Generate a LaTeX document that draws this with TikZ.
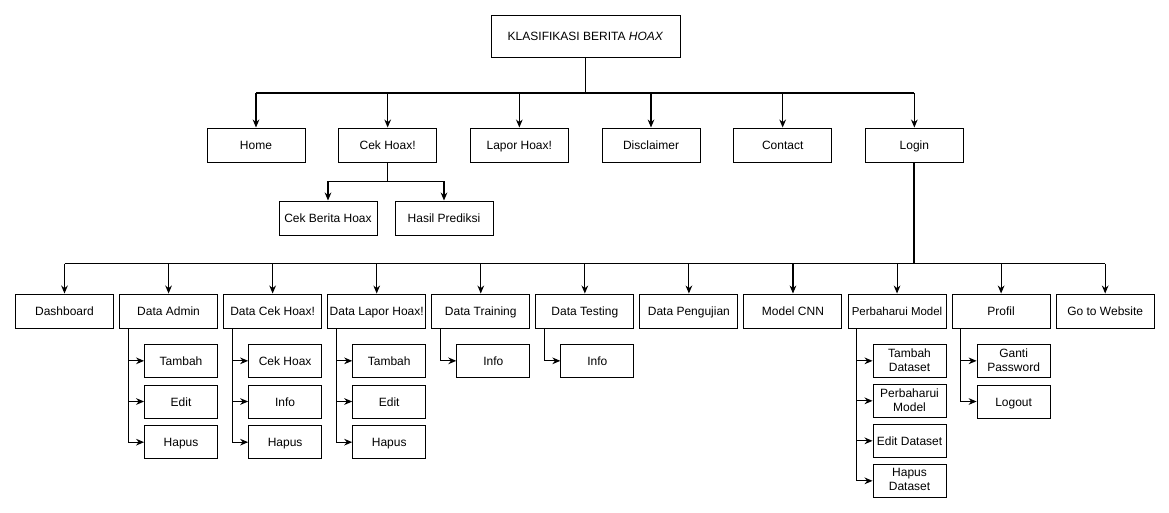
\documentclass[tikz,border=0pt]{standalone}
\usepackage{fontspec}
\setmainfont{Liberation Sans}
\usetikzlibrary{arrows.meta,positioning}
\newcommand{\tegak}{\rule[-1.5pt]{0pt}{10.1pt}}
\tikzset{
  menubox/.style={rectangle, draw=black, line width=0.75pt, minimum width=73.5pt, minimum height=25.5pt,
    inner xsep=0.5pt, inner ysep=0pt, align=center, font=\fontsize{9}{10.5}\selectfont,
    execute at begin node=\tegak, execute at end node=\tegak},
  subbox/.style={menubox, minimum width=54.75pt, minimum height=24.75pt},
  trunk/.style={line width=1.3pt}
}

\begin{document}
\begin{tikzpicture}[x=0.75pt, y=-0.75pt, line width=0.8pt, >={Stealth[length=6pt,width=5pt]}]
      \useasboundingbox (0,0) rectangle (1169,512);
      % judul
      \node[menubox, minimum width=141.75pt, minimum height=31.5pt] (judul) at (585.5,36) {KLASIFIKASI BERITA \textit{HOAX}};
      % menu utama
      \node[menubox] (home) at (256,145) {Home};
      \node[menubox, right=24.5pt of home] (cekhoax) {Cek Hoax!};
      \node[menubox, right=24.5pt of cekhoax] (laporhoax) {Lapor Hoax!};
      \node[menubox, right=24.5pt of laporhoax] (disclaimer) {Disclaimer};
      \node[menubox, right=24.5pt of disclaimer] (contact) {Contact};
      \node[menubox, right=24.5pt of contact] (login) {Login};
      \coordinate (cabang1) at (585.5,93);
      \draw[trunk] (judul) -- (cabang1);
      \draw (home |- cabang1) -- (login |- cabang1);
      \draw[->] (home |- cabang1) -- (home);
      \draw[->] (cekhoax |- cabang1) -- (cekhoax);
      \draw[->] (laporhoax |- cabang1) -- (laporhoax);
      \draw[->] (disclaimer |- cabang1) -- (disclaimer);
      \draw[->] (contact |- cabang1) -- (contact);
      \draw[->] (login |- cabang1) -- (login);
      % submenu cek hoax
      \node[menubox] (cekberita) at (328,218) {Cek Berita Hoax};
      \node[menubox, right=12.75pt of cekberita] (hasil) {Hasil Prediksi};
      \coordinate (cabang2) at ([yshift=-14.25pt]cekhoax.south);
      \draw (cekhoax) -- (cabang2);
      \draw[->] (cabang2) -| (cekberita);
      \draw[->] (cabang2) -| (hasil);
      % menu admin
      \node[menubox] (dashboard) at (64.5,311) {Dashboard};
      \node[menubox, right=3.8pt of dashboard] (dadmin) {Data Admin};
      \node[menubox, right=3.8pt of dadmin] (dcek) {Data Cek Hoax!};
      \node[menubox, right=3.8pt of dcek] (dlapor) {Data Lapor Hoax!};
      \node[menubox, right=3.8pt of dlapor] (dtraining) {Data Training};
      \node[menubox, right=3.8pt of dtraining] (dtesting) {Data Testing};
      \node[menubox, right=3.8pt of dtesting] (dpengujian) {Data Pengujian};
      \node[menubox, right=3.8pt of dpengujian] (modelcnn) {Model CNN};
      \node[menubox, right=3.8pt of modelcnn, font=\fontsize{8.6}{10.5}\selectfont] (perbaharui) {Perbaharui Model};
      \node[menubox, right=3.8pt of perbaharui] (profil) {Profil};
      \node[menubox, right=3.8pt of profil] (website) {Go to Website};
      \coordinate (cabang3) at ([yshift=-75.75pt]login.south);
      \draw[trunk] (login) -- (cabang3);
      \draw (dashboard |- cabang3) -- (website |- cabang3);
      \draw[->] (dashboard |- cabang3) -- (dashboard);
      \draw[->] (dadmin |- cabang3) -- (dadmin);
      \draw[->] (dcek |- cabang3) -- (dcek);
      \draw[->] (dlapor |- cabang3) -- (dlapor);
      \draw[->] (dtraining |- cabang3) -- (dtraining);
      \draw[->] (dtesting |- cabang3) -- (dtesting);
      \draw[->] (dpengujian |- cabang3) -- (dpengujian);
      \draw[->] (modelcnn |- cabang3) -- (modelcnn);
      \draw[->] (perbaharui |- cabang3) -- (perbaharui);
      \draw[->] (profil |- cabang3) -- (profil);
      \draw[->] (website |- cabang3) -- (website);
      % data admin
      \node[subbox, anchor=north east] (admin1) at ([yshift=-11.5pt]dadmin.south east) {Tambah};
      \node[subbox, below=5pt of admin1] (admin2) {Edit};
      \node[subbox, below=5pt of admin2] (admin3) {Hapus};
      \coordinate (admin0) at ([xshift=6.75pt]dadmin.south west);
      \draw[->] (admin0) |- (admin3);
      \draw[->] (admin0 |- admin1) -- (admin1);
      \draw[->] (admin0 |- admin2) -- (admin2);
      % data cek hoax
      \node[subbox, anchor=north east] (cek1) at ([yshift=-11.5pt]dcek.south east) {Cek Hoax};
      \node[subbox, below=5pt of cek1] (cek2) {Info};
      \node[subbox, below=5pt of cek2] (cek3) {Hapus};
      \coordinate (cek0) at ([xshift=6.75pt]dcek.south west);
      \draw[->] (cek0) |- (cek3);
      \draw[->] (cek0 |- cek1) -- (cek1);
      \draw[->] (cek0 |- cek2) -- (cek2);
      % data lapor hoax
      \node[subbox, anchor=north east] (lapor1) at ([yshift=-11.5pt]dlapor.south east) {Tambah};
      \node[subbox, below=5pt of lapor1] (lapor2) {Edit};
      \node[subbox, below=5pt of lapor2] (lapor3) {Hapus};
      \coordinate (lapor0) at ([xshift=6.75pt]dlapor.south west);
      \draw[->] (lapor0) |- (lapor3);
      \draw[->] (lapor0 |- lapor1) -- (lapor1);
      \draw[->] (lapor0 |- lapor2) -- (lapor2);
      % data training dan testing
      \node[subbox, anchor=north east] (training1) at ([yshift=-11.5pt]dtraining.south east) {Info};
      \draw[->] ([xshift=6.75pt]dtraining.south west) |- (training1);
      \node[subbox, anchor=north east] (testing1) at ([yshift=-11.5pt]dtesting.south east) {Info};
      \draw[->] ([xshift=6.75pt]dtesting.south west) |- (testing1);
      % perbaharui model
      \node[subbox, anchor=north east] (model1) at ([yshift=-11.5pt]perbaharui.south east) {Tambah\\Dataset};
      \node[subbox, below=4.5pt of model1] (model2) {Perbaharui\\Model};
      \node[subbox, below=4.5pt of model2] (model3) {Edit Dataset};
      \node[subbox, below=4.5pt of model3] (model4) {Hapus\\Dataset};
      \coordinate (model0) at ([xshift=6.75pt]perbaharui.south west);
      \draw[->] (model0) |- (model4);
      \draw[->] (model0 |- model1) -- (model1);
      \draw[->] (model0 |- model2) -- (model2);
      \draw[->] (model0 |- model3) -- (model3);
      % profil
      \node[subbox, anchor=north east] (profil1) at ([yshift=-11.5pt]profil.south east) {Ganti\\Password};
      \node[subbox, below=5pt of profil1] (profil2) {Logout};
      \coordinate (profil0) at ([xshift=6.75pt]profil.south west);
      \draw[->] (profil0) |- (profil2);
      \draw[->] (profil0 |- profil1) -- (profil1);
\end{tikzpicture}
\end{document}
